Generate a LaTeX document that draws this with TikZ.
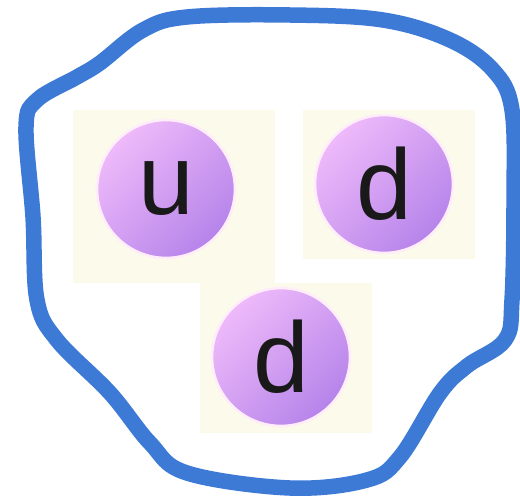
\documentclass[tikz,border=0pt]{standalone}
\usepackage{fontspec}
\setsansfont{Liberation Sans}
\usepackage{xcolor}
\usetikzlibrary{positioning}

\definecolor{azulcontorno}{RGB}{61,122,214}
\definecolor{creme}{RGB}{252,250,234}
\definecolor{lilasclaro}{RGB}{238,186,250}
\definecolor{lilasescuro}{RGB}{182,132,234}

\begin{document}
\begin{tikzpicture}[
    x=0.02cm, y=-0.02cm,
    quadro/.style={fill=creme, inner sep=0pt},
    quark/.style={circle, minimum size=2.76cm, inner sep=0pt,
        top color=lilasclaro, bottom color=lilasescuro, shading angle=45,
        draw={rgb,255:red,255;green,238;blue,250}, line width=1.5pt,
        font=\sffamily\fontsize{57}{60}\selectfont, text=black!90},
    contorno/.style={draw=azulcontorno, line width=3.1mm, line join=round}
]
    \useasboundingbox (0,0) rectangle (520,497);

    \node[quadro, minimum width=4.04cm, minimum height=3.46cm] (q1) at (174,196.5) {};
    \node[quadro, minimum width=3.44cm, minimum height=2.98cm] (q2) at (389,184.5) {};
    \node[quadro, minimum width=3.44cm, minimum height=3.00cm] (q3) at (286,358) {};

    \node[quark] (up) at (166,189) {u};
    \node[quark] (down1) at (384,184) {d};
    \node[quark] (down2) at (281,357) {d};

    \draw[contorno] plot[smooth cycle, tension=0.6] coordinates {
        (290,15) (383,20) (450,40) (493,70) (512,110) (514,200)
        (512,300) (505,340) (467,366) (440,393) (400,457) (367,480)
        (290,488) (187,473) (150,443) (110,393) (57,340) (37,300)
        (33,217) (26,127) (37,100) (77,77) (100,63) (143,30) (187,17)};
\end{tikzpicture}
\end{document}
